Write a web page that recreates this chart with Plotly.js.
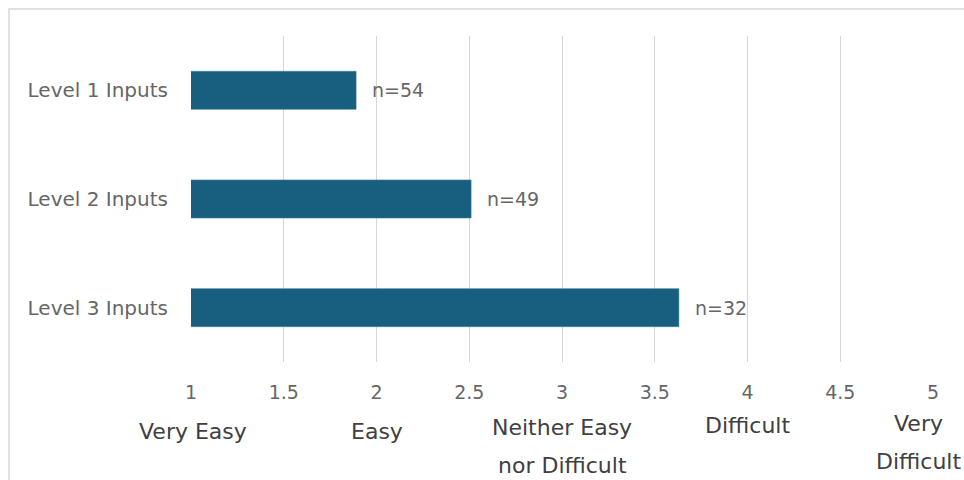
<!DOCTYPE html>
<html>
<head>
<meta charset="utf-8">
<script src="https://cdn.plot.ly/plotly-3.0.1.min.js"></script>
<style>
  html, body { margin: 0; padding: 0; background: #ffffff; }
  #wrap { position: relative; width: 964px; height: 480px; overflow: hidden; }
  #frame { position: absolute; left: 8px; top: 8px; width: 1000px; height: 1000px;
           border-left: 2px solid #e2e2e2; border-top: 2px solid #e2e2e2; }
  #chart { position: absolute; left: 0; top: 0; width: 964px; height: 480px; }
</style>
</head>
<body>
<div id="wrap">
  <div id="frame"></div>
  <div id="chart"></div>
</div>
<script>
// Mean difficulty rating per input level (1 = Very Easy ... 5 = Very Difficult)
const levels = ["Level 1 Inputs", "Level 2 Inputs", "Level 3 Inputs"];
const meanRating = [1.89, 2.51, 3.63];
const respondents = [54, 49, 32];

// Verbal anchors of the rating scale
const scaleValues = [1, 2, 3, 4, 5];
const scaleLabels = [
  ["Very Easy"],
  ["Easy"],
  ["Neither Easy", "nor Difficult"],
  ["Difficult"],
  ["Very", "Difficult"]
];

const FONT = "DejaVu Sans, Verdana, sans-serif";
const M = { l: 191, r: 31, t: 36, b: 118 };

// Pixel placement of the scale anchors below the axis (centre of first line, horizontal nudge)
const anchorPlacement = [
  { top: 431, dx: 2 },
  { top: 431, dx: 0 },
  { top: 427, dx: 0 },
  { top: 425, dx: 0 },
  { top: 423, dx: -15 }
];
const ANCHOR_LINE_GAP = 38.5;

const trace = {
  type: "bar",
  orientation: "h",
  y: levels,
  x: meanRating,
  width: 0.35,
  marker: { color: "#175e7f", line: { color: "#3f7d9b", width: 0.6 } },
  hoverinfo: "x+y"
};

const annotations = [];

// sample-size labels to the right of each bar
levels.forEach((lv, i) => {
  annotations.push({
    x: meanRating[i], y: lv, xref: "x", yref: "y",
    text: "n=" + respondents[i],
    showarrow: false, xanchor: "left", yanchor: "middle", xshift: 14,
    font: { family: FONT, size: 19, color: "#666666" }
  });
});

// verbal scale anchors under the numeric ticks
scaleLabels.forEach((lines, i) => {
  lines.forEach((line, j) => {
    const centre = anchorPlacement[i].top + j * ANCHOR_LINE_GAP;
    annotations.push({
      x: scaleValues[i], y: 0, xref: "x", yref: "paper",
      text: line, showarrow: false,
      xanchor: "center", yanchor: "middle",
      xshift: anchorPlacement[i].dx,
      yshift: -(centre - (480 - M.b)),
      font: { family: FONT, size: 22, color: "#404040" }
    });
  });
});

const layout = {
  width: 964, height: 480,
  margin: M,
  paper_bgcolor: "rgba(0,0,0,0)",
  plot_bgcolor: "rgba(0,0,0,0)",
  showlegend: false,
  bargap: 0.65,
  xaxis: {
    range: [1, 5],
    tick0: 1, dtick: 0.5,
    showgrid: true, gridcolor: "#d6d6d6", gridwidth: 1,
    zeroline: false, showline: false, ticks: "",
    ticklabelstandoff: 17,
    tickfont: { family: FONT, size: 19, color: "#666666" },
    fixedrange: true
  },
  yaxis: {
    type: "category",
    autorange: "reversed",
    showgrid: false, zeroline: false, showline: false, ticks: "",
    ticklabelstandoff: 22,
    tickfont: { family: FONT, size: 20, color: "#666666" },
    fixedrange: true
  },
  annotations: annotations,
  font: { family: FONT }
};

Plotly.newPlot("chart", [trace], layout, { displayModeBar: false, staticPlot: true });
</script>
</body>
</html>
